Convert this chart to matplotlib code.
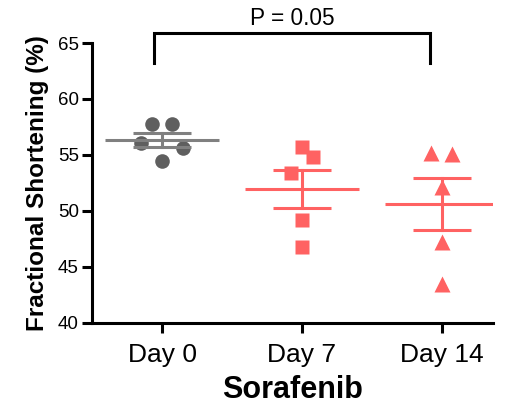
import numpy as np
import matplotlib
matplotlib.use("Agg")
import matplotlib.pyplot as plt

# ---- data ----
categories = ["Day 0", "Day 7", "Day 14"]
day0 = [57.8, 57.8, 56.1, 55.6, 54.5]
day7 = [55.7, 54.8, 53.4, 49.2, 46.8]
day14 = [55.2, 55.1, 52.1, 47.2, 43.5]
series = [day0, day7, day14]
jitter = [[-0.07, 0.07, -0.15, 0.15, 0.0],
          [0.0, 0.08, -0.08, 0.0, 0.0],
          [-0.08, 0.07, 0.0, 0.0, 0.0]]
yticks = [40, 45, 50, 55, 60, 65]
p_label = "P = 0.05"

markers = ["o", "s", "^"]
msizes = [10.5, 9.5, 11]
mcolors = ["#5f5f5f", "#ff6262", "#ff6262"]
lcolors = ["#808080", "#ff6262", "#ff6262"]

plt.rcParams['font.family'] = ['Liberation Sans', 'DejaVu Sans']

fig = plt.figure(figsize=(5.18, 4.07), dpi=100)
ax = fig.add_axes([0.1776, 0.207, 0.9517 - 0.1776, 0.8943 - 0.207])

for i, vals in enumerate(series):
    vals = np.asarray(vals)
    m = vals.mean()
    sem = vals.std(ddof=1) / np.sqrt(len(vals))
    xs = i + np.asarray(jitter[i])
    ax.plot(xs, vals, linestyle='none', marker=markers[i], ms=msizes[i],
            color=mcolors[i], mec='none', zorder=3)
    lz = 4 if i == 0 else 2
    ax.plot([i - 0.41, i + 0.41], [m, m], color=lcolors[i], lw=2.2, zorder=lz,
            solid_capstyle='butt')
    ax.plot([i - 0.21, i + 0.21], [m + sem, m + sem], color=lcolors[i], lw=2.2,
            zorder=lz, solid_capstyle='butt')
    ax.plot([i - 0.21, i + 0.21], [m - sem, m - sem], color=lcolors[i], lw=2.2,
            zorder=lz, solid_capstyle='butt')
    ax.plot([i, i], [m - sem, m + sem], color=lcolors[i], lw=2.2, zorder=lz)

ax.set_xlim(-0.5, 2.364)
ax.set_ylim(40, 65)
ax.set_xticks(range(len(categories)))
ax.set_xticklabels(categories, fontsize=19)
ax.set_yticks(yticks)
ax.set_yticklabels([str(t) for t in yticks], fontsize=13.5)

for s in ['top', 'right']:
    ax.spines[s].set_visible(False)
for s in ['left', 'bottom']:
    ax.spines[s].set_linewidth(2.2)
ax.tick_params(axis='both', direction='out', length=7.5, width=2.2)
ax.tick_params(axis='y', pad=2)
ax.tick_params(axis='x', pad=7)

ax.set_xlabel("Sorafenib", fontsize=22, fontweight='bold', labelpad=6)
ax.set_ylabel("Fractional Shortening (%)", fontsize=17.5, fontweight='bold', labelpad=6)

# significance bracket
bx0, bx1, by0, by1 = -0.057, 1.914, 63.2, 65.9
ax.plot([bx0, bx0, bx1, bx1], [by0, by1, by1, by0], color='black', lw=2.2,
        clip_on=False, solid_joinstyle='miter')
ax.text((bx0 + bx1) / 2, 66.6, p_label, ha='center', va='baseline', fontsize=16.3)

fig.savefig("out.png", dpi=100)
